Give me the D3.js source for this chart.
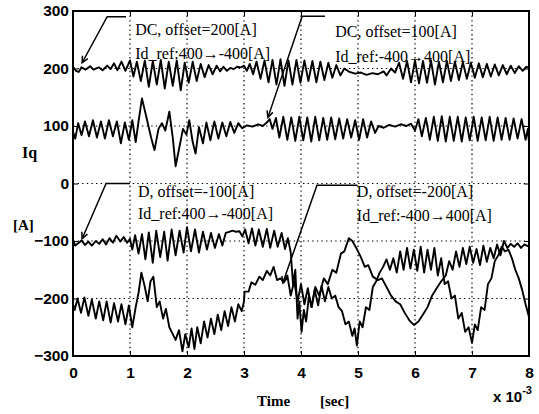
<!DOCTYPE html>
<html>
<head>
<meta charset="utf-8">
<script src="https://cdn.jsdelivr.net/npm/d3@7"></script>
<style>
  html, body { margin: 0; padding: 0; background: #fff; }
  svg { display: block; }
  .tick-label { font-family: "Liberation Sans", Arial, sans-serif; font-weight: bold; font-size: 15.5px; fill: #000; }
  .note { font-family: "Liberation Serif", "Times New Roman", serif; font-size: 16px; fill: #000; }
</style>
</head>
<body>
<svg id="chart" width="539" height="414"></svg>
<script>
// Time axis in ms (scaled by 10^-3), current in A
const timeTicks = [0, 1, 2, 3, 4, 5, 6, 7, 8];
const iqTicks = [300, 200, 100, 0, -100, -200, -300];

// DC method, offset = 200 A, Id_ref 400 -> -400 A  ([t, Iq])
const dcOffset200 = [
  [0.00,203],[0.05,196],[0.10,194],[0.15,202],[0.22,198],[0.30,204],[0.36,198],[0.45,202],[0.52,197],[0.60,205],
  [0.66,199],[0.72,209],[0.78,197],[0.85,212],[0.92,196],[1.00,214],[1.06,186],[1.12,212],[1.19,178],[1.26,214],
  [1.33,168],[1.40,213],[1.47,172],[1.54,215],[1.61,165],[1.68,212],[1.75,170],[1.82,214],[1.89,162],[1.96,210],
  [2.03,175],[2.10,212],[2.17,178],[2.24,208],[2.31,185],[2.38,206],[2.45,190],[2.52,205],[2.58,195],[2.64,203],
  [2.70,196],[2.76,201],[2.82,199],[2.88,203],[2.95,202],[3.00,205],[3.05,196],[3.10,208],[3.16,190],[3.22,212],
  [3.29,182],[3.36,214],[3.43,176],[3.50,215],[3.57,172],[3.64,216],[3.71,170],[3.78,214],[3.85,172],[3.92,215],
  [3.99,175],[4.06,214],[4.13,178],[4.20,213],[4.27,176],[4.34,212],[4.41,180],[4.48,210],[4.55,184],[4.62,206],
  [4.69,188],[4.76,200],[4.85,194],[4.95,191],[5.05,193],[5.15,189],[5.25,192],[5.35,190],[5.45,195],[5.50,188],
  [5.58,200],[5.65,193],[5.72,210],[5.79,182],[5.86,213],[5.93,176],[6.00,214],[6.07,174],[6.14,213],[6.21,175],
  [6.28,214],[6.35,172],[6.42,212],[6.49,176],[6.56,213],[6.63,178],[6.70,212],[6.77,180],[6.84,211],[6.91,182],
  [6.98,210],[7.05,184],[7.12,209],[7.19,185],[7.26,208],[7.33,186],[7.40,207],[7.47,188],[7.54,206],[7.61,190],
  [7.68,205],[7.75,192],[7.82,204],[7.89,196],[7.95,203],[8.00,201]
];

// DC method, offset = 100 A, Id_ref -400 -> 400 A
const dcOffset100 = [
  [0.00,90],[0.04,78],[0.09,105],[0.15,84],[0.21,108],[0.28,82],[0.35,110],[0.42,80],[0.49,108],[0.56,78],
  [0.63,110],[0.70,82],[0.77,108],[0.84,70],[0.91,106],[0.98,76],[1.04,110],[1.10,72],[1.15,108],[1.21,148],
  [1.30,110],[1.37,80],[1.43,58],[1.50,95],[1.56,105],[1.62,92],[1.69,125],[1.75,80],[1.80,30],[1.86,60],
  [1.93,95],[1.99,85],[2.04,110],[2.10,72],[2.15,52],[2.21,98],[2.28,70],[2.34,106],[2.41,75],[2.48,108],
  [2.55,78],[2.62,106],[2.69,82],[2.76,107],[2.83,88],[2.90,105],[2.97,96],[3.05,101],[3.15,99],[3.25,103],
  [3.33,100],[3.40,106],[3.45,112],[3.50,95],[3.56,114],[3.62,80],[3.69,116],[3.76,76],[3.83,115],[3.90,74],
  [3.97,116],[4.04,75],[4.11,115],[4.18,73],[4.25,116],[4.32,75],[4.39,114],[4.46,76],[4.53,115],[4.60,77],
  [4.67,113],[4.74,78],[4.81,112],[4.88,80],[4.95,110],[5.02,76],[5.09,112],[5.16,80],[5.23,108],[5.30,88],
  [5.36,100],[5.45,97],[5.55,102],[5.65,99],[5.75,103],[5.85,100],[5.93,104],[6.00,92],[6.06,112],[6.12,82],
  [6.19,114],[6.26,76],[6.33,116],[6.40,74],[6.47,117],[6.54,73],[6.61,116],[6.68,74],[6.75,116],[6.82,73],
  [6.89,115],[6.96,75],[7.03,116],[7.10,74],[7.17,115],[7.24,75],[7.31,116],[7.38,74],[7.45,115],[7.52,76],
  [7.59,114],[7.66,76],[7.73,113],[7.80,78],[7.87,112],[7.94,76],[7.98,95],[8.00,72]
];

// D method, offset = -100 A, Id_ref 400 -> -400 A
const dOffsetM100 = [
  [0.00,-98],[0.04,-108],[0.09,-104],[0.15,-99],[0.21,-107],[0.27,-101],[0.33,-108],[0.40,-100],[0.46,-105],[0.52,-97],
  [0.58,-106],[0.64,-95],[0.70,-103],[0.76,-91],[0.83,-101],[0.89,-93],[0.95,-103],[1.00,-96],[1.04,-115],[1.09,-90],
  [1.15,-122],[1.21,-88],[1.27,-132],[1.33,-85],[1.40,-138],[1.46,-82],[1.53,-128],[1.60,-84],[1.66,-134],[1.73,-80],
  [1.80,-125],[1.87,-82],[1.94,-120],[2.00,-76],[2.07,-118],[2.14,-80],[2.21,-120],[2.28,-84],[2.35,-115],[2.42,-86],
  [2.49,-112],[2.56,-88],[2.62,-108],[2.68,-86],[2.74,-84],[2.80,-82],[2.86,-84],[2.92,-83],[2.97,-92],[3.02,-80],
  [3.08,-104],[3.14,-78],[3.20,-108],[3.26,-80],[3.33,-110],[3.40,-79],[3.46,-112],[3.53,-82],[3.59,-110],[3.66,-86],
  [3.72,-114],[3.77,-95],[3.82,-120],[3.86,-175],[3.90,-150],[3.94,-235],[3.97,-205],[4.01,-258],[4.05,-220],[4.09,-240],
  [4.14,-195],[4.19,-215],[4.25,-180],[4.32,-195],[4.40,-165],[4.47,-175],[4.55,-150],[4.62,-155],[4.70,-122],[4.76,-118],
  [4.84,-95],[4.90,-100],[4.97,-112],[5.05,-128],[5.12,-145],[5.18,-142],[5.26,-162],[5.35,-168],[5.42,-165],[5.50,-180],
  [5.58,-195],[5.66,-205],[5.74,-210],[5.82,-225],[5.90,-238],[5.98,-246],[6.06,-240],[6.14,-228],[6.22,-215],[6.30,-195],
  [6.38,-182],[6.46,-170],[6.54,-160],[6.60,-135],[6.66,-150],[6.72,-118],[6.78,-145],[6.84,-112],[6.90,-140],[6.96,-110],
  [7.02,-138],[7.08,-114],[7.14,-142],[7.20,-108],[7.26,-136],[7.32,-112],[7.38,-130],[7.44,-106],[7.50,-125],[7.56,-100],
  [7.62,-112],[7.68,-105],[7.74,-110],[7.80,-104],[7.86,-112],[7.92,-106],[8.00,-110]
];

// D method, offset = -200 A, Id_ref -400 -> 400 A
const dOffsetM200 = [
  [0.00,-210],[0.03,-220],[0.08,-200],[0.14,-225],[0.20,-198],[0.27,-230],[0.33,-202],[0.40,-235],[0.46,-205],[0.53,-238],
  [0.59,-205],[0.66,-242],[0.72,-208],[0.79,-240],[0.85,-210],[0.92,-245],[0.98,-212],[1.04,-250],[1.10,-215],[1.15,-190],
  [1.20,-155],[1.26,-180],[1.31,-205],[1.36,-170],[1.41,-162],[1.47,-215],[1.52,-205],[1.58,-235],[1.63,-218],[1.69,-250],
  [1.75,-262],[1.80,-272],[1.86,-255],[1.92,-292],[1.97,-262],[2.03,-285],[2.08,-252],[2.13,-288],[2.18,-250],[2.24,-278],
  [2.30,-240],[2.36,-268],[2.42,-235],[2.48,-262],[2.54,-228],[2.60,-255],[2.66,-222],[2.72,-248],[2.78,-215],[2.84,-240],
  [2.90,-210],[2.96,-222],[3.00,-205],[3.01,-188],[3.08,-188],[3.13,-172],[3.20,-176],[3.27,-162],[3.33,-168],[3.40,-152],
  [3.46,-160],[3.52,-145],[3.58,-168],[3.64,-165],[3.70,-172],[3.76,-160],[3.82,-195],[3.88,-170],[3.94,-205],[4.00,-175],
  [4.06,-210],[4.12,-182],[4.18,-215],[4.24,-185],[4.30,-212],[4.36,-178],[4.42,-205],[4.48,-180],[4.54,-200],[4.60,-195],
  [4.66,-215],[4.72,-222],[4.78,-245],[4.84,-240],[4.90,-265],[4.94,-252],[4.98,-282],[5.03,-240],[5.08,-250],[5.14,-215],
  [5.20,-220],[5.26,-180],[5.32,-170],[5.38,-155],[5.44,-145],[5.50,-132],[5.56,-150],[5.62,-130],[5.68,-155],[5.74,-118],
  [5.80,-150],[5.86,-112],[5.92,-148],[5.98,-115],[6.04,-152],[6.10,-110],[6.16,-155],[6.22,-115],[6.28,-150],[6.34,-112],
  [6.40,-160],[6.46,-130],[6.52,-175],[6.58,-170],[6.64,-200],[6.70,-195],[6.76,-235],[6.82,-225],[6.88,-258],[6.94,-250],
  [7.00,-277],[7.05,-245],[7.10,-255],[7.16,-215],[7.22,-220],[7.28,-175],[7.34,-165],[7.40,-135],[7.46,-125],[7.52,-110],
  [7.58,-118],[7.64,-115],[7.70,-130],[7.76,-150],[7.82,-165],[7.88,-185],[7.94,-210],[8.00,-232]
];

// Annotation labels (data coordinates: t in ms, Iq in A) and their leader arrows
const noteLines = [
  { t: 1.09, v: 258, text: "DC, offset=200[A]" },
  { t: 1.09, v: 216, text: "Id_ref:400\u2192-400[A]" },
  { t: 4.60, v: 254, text: "DC, offset=100[A]" },
  { t: 4.60, v: 212, text: "Id_ref:-400\u2192400[A]" },
  { t: 1.14, v: -24, text: "D, offset=-100[A]" },
  { t: 1.14, v: -62, text: "Id_ref:400\u2192-400[A]" },
  { t: 4.98, v: -24, text: "D, offset=-200[A]" },
  { t: 4.98, v: -65, text: "Id_ref:-400\u2192400[A]" }
];
const leaders = [
  [[0.93, 290], [0.60, 290], [0.16, 210]],
  [[4.42, 291], [4.02, 291], [3.42, 115]],
  [[1.00, 0], [0.58, 0], [0.16, -96]],
  [[4.99, -3], [4.28, -3], [3.68, -173]]
];

const svg = d3.select("#chart");
const W = 539, H = 414;
const plot = { left: 73, right: 529, top: 11, bottom: 356 };

svg.append("rect").attr("width", W).attr("height", H).attr("fill", "#fff");

const x = d3.scaleLinear().domain([0, 8]).range([plot.left, plot.right]);
const y = d3.scaleLinear().domain([-300, 300]).range([plot.bottom, plot.top]);

// dotted grid
const grid = svg.append("g").attr("stroke", "#000").attr("stroke-width", 1.2)
  .attr("stroke-dasharray", "1.4,3.2");
grid.selectAll("line.gx").data(timeTicks.slice(1, -1)).join("line")
  .attr("x1", d => x(d)).attr("x2", d => x(d))
  .attr("y1", plot.top).attr("y2", plot.bottom);
grid.selectAll("line.gy").data(iqTicks.slice(1, -1)).join("line")
  .attr("x1", plot.left).attr("x2", plot.right)
  .attr("y1", d => y(d)).attr("y2", d => y(d));

// axes with inward ticks
const xAxis = d3.axisBottom(x).tickValues(timeTicks).tickSize(-5).tickPadding(10).tickFormat(d3.format("d"));
const yAxis = d3.axisLeft(y).tickValues(iqTicks).tickSize(-5).tickPadding(4).tickFormat(d3.format("d"));
const gx = svg.append("g").attr("transform", `translate(0,${plot.bottom})`).call(xAxis);
const gy = svg.append("g").attr("transform", `translate(${plot.left},0)`).call(yAxis);
svg.append("g").attr("transform", `translate(0,${plot.top})`)
  .call(d3.axisTop(x).tickValues(timeTicks).tickSize(-5).tickFormat(""));
svg.append("g").attr("transform", `translate(${plot.right},0)`)
  .call(d3.axisRight(y).tickValues(iqTicks).tickSize(-5).tickFormat(""));
svg.selectAll(".domain").remove();
svg.selectAll(".tick line").attr("stroke", "#000").attr("stroke-width", 1);
[gx, gy].forEach(g => g.selectAll(".tick text").attr("class", "tick-label").attr("fill", "#000")
  .style("font-family", "'Liberation Sans', Arial, sans-serif").style("font-weight", "bold").style("font-size", "15.5px"));
gx.selectAll(".tick text").attr("dy", "0.75em");

// traces
const line = d3.line().x(d => x(d[0])).y(d => y(d[1]));
const traces = [dcOffset200, dcOffset100, dOffsetM100, dOffsetM200];
svg.append("g").selectAll("path").data(traces).join("path")
  .attr("d", line).attr("fill", "none").attr("stroke", "#000")
  .attr("stroke-width", 1.9).attr("stroke-linejoin", "round");

// frame
svg.append("rect").attr("x", plot.left).attr("y", plot.top)
  .attr("width", plot.right - plot.left).attr("height", plot.bottom - plot.top)
  .attr("fill", "none").attr("stroke", "#000").attr("stroke-width", 2);

// annotation text
svg.append("g").selectAll("text").data(noteLines).join("text")
  .attr("class", "note").attr("x", d => x(d.t)).attr("y", d => y(d.v)).text(d => d.text);

// leader lines with open arrowheads
const lg = svg.append("g").attr("stroke", "#000").attr("fill", "none").attr("stroke-width", 1.5);
leaders.forEach(pts => {
  const p = pts.map(d => [x(d[0]), y(d[1])]);
  lg.append("path").attr("d", d3.line()(p));
  const a = p[p.length - 2], b = p[p.length - 1];
  const ang = Math.atan2(b[1] - a[1], b[0] - a[0]);
  const len = 7, spread = 0.45;
  const h1 = [b[0] - len * Math.cos(ang - spread), b[1] - len * Math.sin(ang - spread)];
  const h2 = [b[0] - len * Math.cos(ang + spread), b[1] - len * Math.sin(ang + spread)];
  lg.append("path").attr("d", d3.line()([h1, b, h2]));
});

// axis titles
const serif = "'Liberation Serif', 'Times New Roman', serif";
svg.append("text").attr("x", 22).attr("y", 158).attr("font-family", serif)
  .attr("font-size", 16).attr("font-weight", "bold").text("Iq");
svg.append("text").attr("x", 13).attr("y", 230).attr("font-family", serif)
  .attr("font-size", 15).attr("font-weight", "bold").text("[A]");
svg.append("text").attr("x", 257).attr("y", 406).attr("font-family", serif)
  .attr("font-size", 15).attr("font-weight", "bold").text("Time");
svg.append("text").attr("x", 320).attr("y", 406).attr("font-family", serif)
  .attr("font-size", 15).attr("font-weight", "bold").text("[sec]");
const exp = svg.append("text").attr("x", 493).attr("y", 402)
  .attr("font-family", "'Liberation Sans', Arial, sans-serif").attr("font-weight", "bold").attr("font-size", 15);
exp.append("tspan").text("x 10");
exp.append("tspan").attr("dy", -8).attr("font-size", 11).text("-3");
</script>
</body>
</html>
